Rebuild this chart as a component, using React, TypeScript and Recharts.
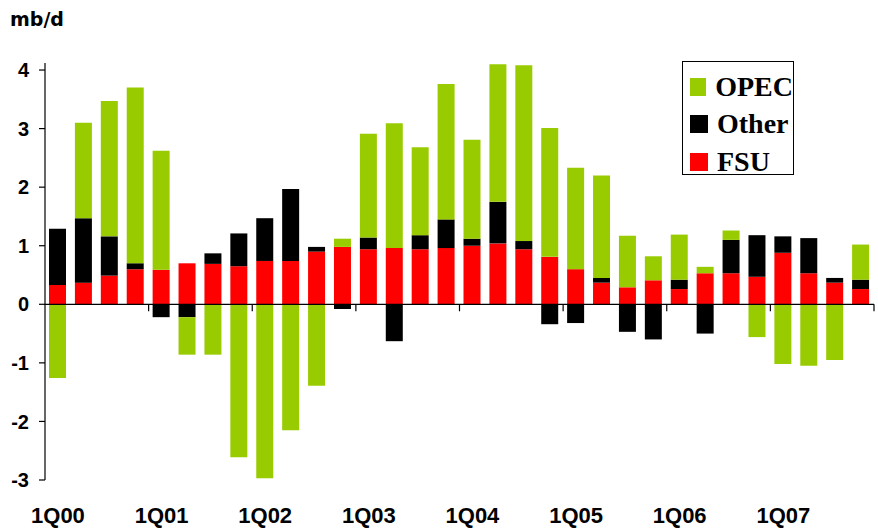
import { BarChart, Bar, XAxis, YAxis, ReferenceLine, Legend } from "recharts";

const quarters = [
  "1Q00", "2Q00", "3Q00", "4Q00", "1Q01", "2Q01", "3Q01", "4Q01",
  "1Q02", "2Q02", "3Q02", "4Q02", "1Q03", "2Q03", "3Q03", "4Q03",
  "1Q04", "2Q04", "3Q04", "4Q04", "1Q05", "2Q05", "3Q05", "4Q05",
  "1Q06", "2Q06", "3Q06", "4Q06", "1Q07", "2Q07", "3Q07", "4Q07",
];

const fsu = [
  0.33, 0.37, 0.49, 0.6, 0.59, 0.7, 0.69, 0.65,
  0.74, 0.74, 0.9, 0.98, 0.94, 0.96, 0.94, 0.96,
  1.0, 1.04, 0.94, 0.81, 0.6, 0.37, 0.29, 0.41,
  0.26, 0.53, 0.53, 0.47, 0.88, 0.53, 0.37, 0.26,
];

const other = [
  0.96, 1.1, 0.67, 0.1, -0.22, -0.22, 0.18, 0.56,
  0.73, 1.23, 0.08, -0.08, 0.2, -0.63, 0.24, 0.49,
  0.12, 0.71, 0.14, -0.34, -0.32, 0.08, -0.47, -0.6,
  0.16, -0.5, 0.57, 0.71, 0.28, 0.6, 0.08, 0.16,
];

const opec = [
  -1.26, 1.63, 2.31, 3.0, 2.03, -0.64, -0.86, -2.61,
  -2.97, -2.15, -1.39, 0.14, 1.77, 2.13, 1.5, 2.31,
  1.69, 2.35, 3.0, 2.2, 1.73, 1.75, 0.88, 0.41,
  0.77, 0.11, 0.16, -0.56, -1.02, -1.05, -0.95, 0.6,
];

const yTicks = [-3, -2, -1, 0, 1, 2, 3, 4];

// stacking order: first one sits next to zero
const series = [
  { key: "FSU", color: "#ff0000" },
  { key: "Other", color: "#000000" },
  { key: "OPEC", color: "#99cc00" },
];

const data = quarters.map((q, i) => ({
  q,
  FSU: fsu[i],
  Other: other[i],
  OPEC: opec[i],
}));

const sans = "'Liberation Sans', Arial, sans-serif";

const QuarterTick = ({ x, y, payload }: any) => {
  if (!String(payload.value).startsWith("1Q")) return null;
  return (
    <text
      x={x}
      y={y}
      dy={35}
      textAnchor="middle"
      fontFamily={sans}
      fontWeight="bold"
      fontSize={22}
      fill="#000"
    >
      {payload.value}
    </text>
  );
};

// zero line with the small year ticks hanging below it
const ZeroLine = (props: any) => {
  const { x1, x2, y1 } = props;
  const years = quarters.length / 4;
  const step = (x2 - x1) / years;
  const marks = [];
  for (let k = 1; k <= years; k++) {
    const x = x1 + step * k;
    marks.push(<line key={k} x1={x} x2={x} y1={y1} y2={y1 + 7} stroke="#000" strokeWidth={1.2} />);
  }
  return (
    <g>
      <line x1={x1} x2={x2} y1={y1} y2={y1} stroke="#000" strokeWidth={1.2} />
      {marks}
    </g>
  );
};

const LegendBox = () => (
  <div
    style={{
      border: "1.5px solid #000",
      background: "#fff",
      width: 112,
      height: 114,
      boxSizing: "border-box",
      padding: "6px 0 0 7px",
    }}
  >
    {[...series].reverse().map((s) => (
      <div key={s.key} style={{ display: "flex", alignItems: "center", height: 37.5 }}>
        <span style={{ width: 18, height: 18, background: s.color, display: "inline-block", marginRight: 9 }} />
        <span
          style={{
            fontFamily: "'Liberation Serif', 'Times New Roman', serif",
            fontWeight: "bold",
            fontSize: 28,
            lineHeight: "28px",
            color: "#000",
          }}
        >
          {s.key}
        </span>
      </div>
    ))}
  </div>
);

export default function App() {
  return (
    <div style={{ position: "absolute", left: 0, top: 0, width: 878, height: 531, background: "#fff" }}>
      <div
        style={{
          position: "absolute",
          left: 10,
          top: 8,
          fontFamily: "'DejaVu Sans', Verdana, sans-serif",
          fontWeight: "bold",
          fontSize: 19,
          color: "#000",
        }}
      >
        mb/d
      </div>
      <BarChart
        width={878}
        height={531}
        data={data}
        stackOffset="sign"
        margin={{ top: 63, right: 4, bottom: 0, left: 0 }}
      >
        <XAxis
          dataKey="q"
          axisLine={false}
          tickLine={false}
          interval={0}
          height={51}
          tick={<QuarterTick />}
        />
        <YAxis
          domain={[-3, 4.12]}
          ticks={yTicks}
          width={45}
          axisLine={{ stroke: "#000", strokeWidth: 1.2 }}
          tickLine={{ stroke: "#000", strokeWidth: 1.2 }}
          tickSize={6}
          tickMargin={10}
          tick={{ fill: "#000", fontSize: 20, fontWeight: "bold", fontFamily: sans }}
        />
        {series.map((s) => (
          <Bar
            key={s.key}
            dataKey={s.key}
            stackId="a"
            fill={s.color}
            barSize={17}
            isAnimationActive={false}
          />
        ))}
        <ReferenceLine y={0} shape={<ZeroLine />} />
        <Legend
          layout="vertical"
          align="center"
          verticalAlign="middle"
          content={<LegendBox />}
          wrapperStyle={{ position: "absolute", left: 682, top: 61, width: 114 }}
        />
      </BarChart>
    </div>
  );
}
